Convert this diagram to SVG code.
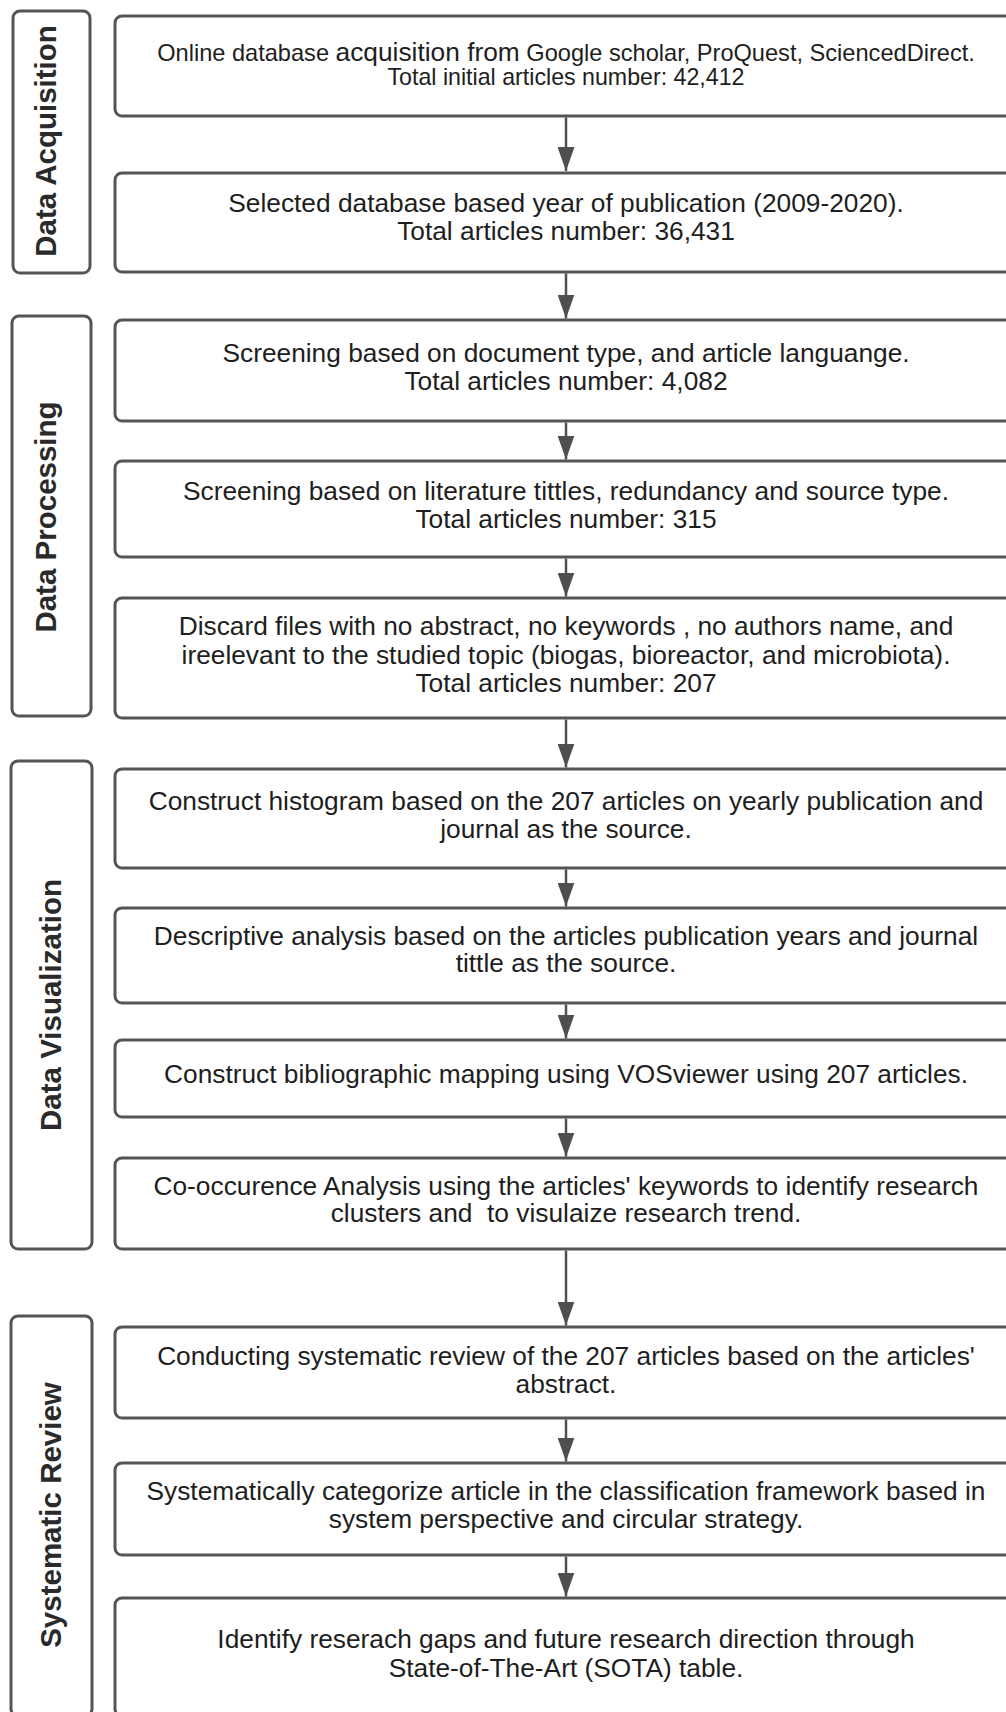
<svg xmlns="http://www.w3.org/2000/svg" width="1006" height="1712" viewBox="0 0 1006 1712">
<style>
.box{fill:#fff;stroke:#555;stroke-width:3}
.lbl{fill:#fff;stroke:#555;stroke-width:3}
.t{font-family:"Liberation Sans",Arial,sans-serif;font-size:26.3px;fill:#1e1e1e;text-anchor:middle}
.lt{font-family:"Liberation Sans",Arial,sans-serif;font-size:29.5px;font-weight:bold;fill:#2a2a2a;text-anchor:middle}
.c{stroke:#4f4f4f;stroke-width:2.5;fill:none}
</style>
<defs>
<marker id="ah" markerWidth="24" markerHeight="17" refX="24" refY="8.5" orient="auto" markerUnits="userSpaceOnUse">
<path d="M0,0 L24,8.5 L0,17 z" fill="#4f4f4f"/>
</marker>
</defs>
<rect width="1006" height="1712" fill="#fff"/>

<g id="lanes">
<g id="lane-acq"><rect class="lbl" x="13" y="11" width="77" height="262" rx="7"/><text class="lt" transform="translate(55.5,141) rotate(-90)">Data Acquisition</text></g>
<g id="lane-proc"><rect class="lbl" x="12" y="316" width="79" height="400" rx="7"/><text class="lt" transform="translate(56,517) rotate(-90)">Data Processing</text></g>
<g id="lane-vis"><rect class="lbl" x="11" y="761" width="81" height="488" rx="7"/><text class="lt" transform="translate(61,1005) rotate(-90)">Data Visualization</text></g>
<g id="lane-rev"><rect class="lbl" x="11" y="1316" width="81" height="400" rx="7"/><text class="lt" transform="translate(61,1515) rotate(-90)">Systematic Review</text></g>
</g>

<g id="connectors">
<path class="c" d="M566,117.5 V171" marker-end="url(#ah)"/>
<path class="c" d="M566,273.5 V318.5" marker-end="url(#ah)"/>
<path class="c" d="M566,422.5 V459.5" marker-end="url(#ah)"/>
<path class="c" d="M566,558.5 V596.5" marker-end="url(#ah)"/>
<path class="c" d="M566,719.5 V767.5" marker-end="url(#ah)"/>
<path class="c" d="M566,869.5 V906.5" marker-end="url(#ah)"/>
<path class="c" d="M566,1004.5 V1038.5" marker-end="url(#ah)"/>
<path class="c" d="M566,1118.5 V1156.5" marker-end="url(#ah)"/>
<path class="c" d="M566,1250.5 V1325.5" marker-end="url(#ah)"/>
<path class="c" d="M566,1419.5 V1461.5" marker-end="url(#ah)"/>
<path class="c" d="M566,1556.5 V1596.5" marker-end="url(#ah)"/>
</g>

<g id="n1"><rect class="box" x="115" y="16" width="904" height="100" rx="7"/>
<text class="t" x="566" y="61" style="font-size:23.6px">Online database <tspan style="font-size:26.3px">acquisition from</tspan> Google scholar, ProQuest, SciencedDirect.</text>
<text class="t" x="566" y="85" style="font-size:23.2px">Total initial articles number: 42,412</text></g>

<g id="n2"><rect class="box" x="115" y="173" width="904" height="99" rx="7"/>
<text class="t" x="566" y="212">Selected database based year of publication (2009-2020).</text>
<text class="t" x="566" y="239.5">Total articles number: 36,431</text></g>

<g id="n3"><rect class="box" x="115" y="320" width="904" height="101" rx="7"/>
<text class="t" x="566" y="362">Screening based on document type, and article languange.</text>
<text class="t" x="566" y="390">Total articles number: 4,082</text></g>

<g id="n4"><rect class="box" x="115" y="461" width="904" height="96" rx="7"/>
<text class="t" x="566" y="500">Screening based on literature tittles, redundancy and source type.</text>
<text class="t" x="566" y="528">Total articles number: 315</text></g>

<g id="n5"><rect class="box" x="115" y="598" width="904" height="120" rx="7"/>
<text class="t" x="566" y="635">Discard files with no abstract, no keywords , no authors name, and</text>
<text class="t" x="566" y="663.5">ireelevant to the studied topic (biogas, bioreactor, and microbiota).</text>
<text class="t" x="566" y="692">Total articles number: 207</text></g>

<g id="n6"><rect class="box" x="115" y="769" width="904" height="99" rx="7"/>
<text class="t" x="566" y="810">Construct histogram based on the 207 articles on yearly publication and</text>
<text class="t" x="566" y="838">journal as the source.</text></g>

<g id="n7"><rect class="box" x="115" y="908" width="904" height="95" rx="7"/>
<text class="t" x="566" y="945">Descriptive analysis based on the articles publication years and journal</text>
<text class="t" x="566" y="972">tittle as the source.</text></g>

<g id="n8"><rect class="box" x="115" y="1040" width="904" height="77" rx="7"/>
<text class="t" x="566" y="1083">Construct bibliographic mapping using VOSviewer using 207 articles.</text></g>

<g id="n9"><rect class="box" x="115" y="1158" width="904" height="91" rx="7"/>
<text class="t" x="566" y="1195">Co-occurence Analysis using the articles' keywords to identify research</text>
<text class="t" x="566" y="1222" xml:space="preserve">clusters and  to visulaize research trend.</text></g>

<g id="n10"><rect class="box" x="115" y="1327" width="904" height="91" rx="7"/>
<text class="t" x="566" y="1365">Conducting systematic review of the 207 articles based on the articles'</text>
<text class="t" x="566" y="1393">abstract.</text></g>

<g id="n11"><rect class="box" x="115" y="1463" width="904" height="92" rx="7"/>
<text class="t" x="566" y="1500">Systematically categorize article in the classification framework based in</text>
<text class="t" x="566" y="1528">system perspective and circular strategy.</text></g>

<g id="n12"><rect class="box" x="115" y="1598" width="904" height="118" rx="7"/>
<text class="t" x="566" y="1648">Identify reserach gaps and future research direction through</text>
<text class="t" x="566" y="1677">State-of-The-Art (SOTA) table.</text></g>
</svg>
